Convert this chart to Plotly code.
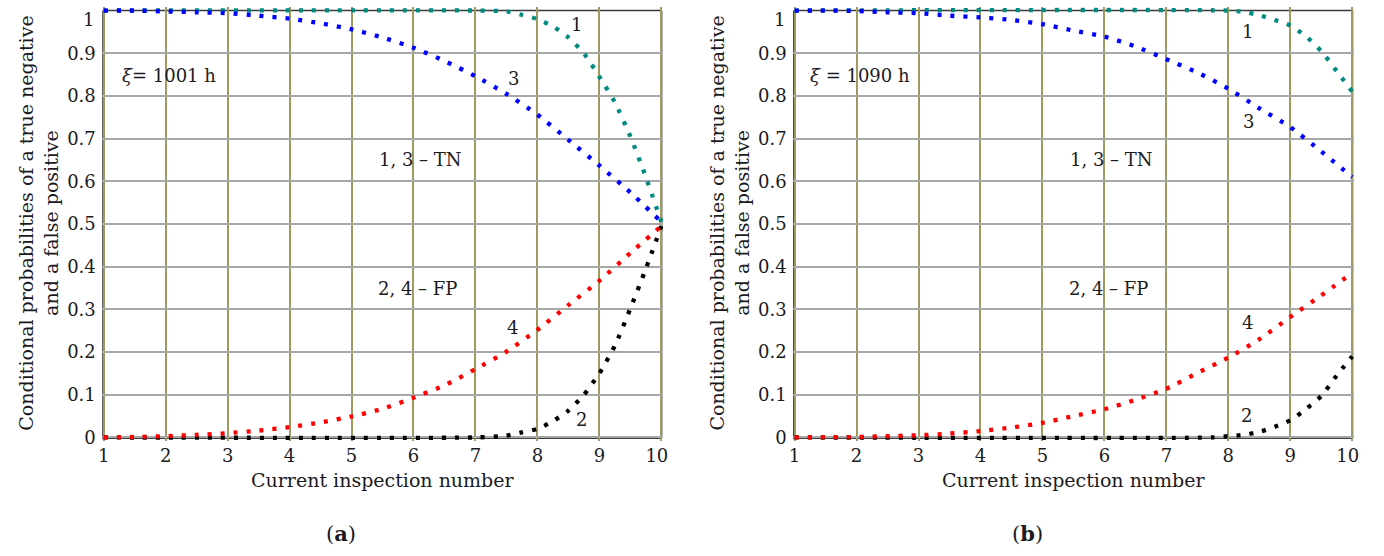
import plotly.graph_objects as go

# ---------------- data ----------------
x_half = [1, 1.5, 2, 2.5, 3, 3.5, 4, 4.5, 5, 5.5, 6, 6.5, 7, 7.5, 8, 8.5, 9, 9.5, 10]

# panel (a)  xi = 1001 h
a_x1 = [1, 7, 7.5, 7.75, 8, 8.25, 8.5, 8.75, 9, 9.25, 9.5, 9.75, 10]
a_y1 = [1, 1, 0.998, 0.99, 0.98, 0.963, 0.937, 0.90, 0.845, 0.785, 0.705, 0.61, 0.505]
a_x2 = [1, 7, 7.5, 7.75, 8, 8.25, 8.5, 8.75, 9, 9.25, 9.5, 9.75, 10]
a_y2 = [0, 0, 0.004, 0.012, 0.02, 0.038, 0.063, 0.10, 0.15, 0.215, 0.302, 0.395, 0.495]
a_y3 = [1.0, 1.0, 0.998, 0.996, 0.994, 0.988, 0.981, 0.970, 0.956, 0.937, 0.913, 0.882,
        0.846, 0.805, 0.756, 0.697, 0.637, 0.574, 0.505]
a_y4 = [0, 0.001, 0.003, 0.006, 0.01, 0.016, 0.024, 0.035, 0.049, 0.067, 0.093, 0.122,
        0.160, 0.201, 0.252, 0.31, 0.367, 0.432, 0.495]

# panel (b)  xi = 1090 h
b_x1 = [1, 8, 8.25, 8.5, 8.75, 9, 9.25, 9.5, 9.75, 10]
b_y1 = [1, 1, 0.997, 0.989, 0.978, 0.965, 0.940, 0.905, 0.858, 0.81]
b_x2 = [1, 7.75, 8, 8.25, 8.5, 8.75, 9, 9.25, 9.5, 9.75, 10]
b_y2 = [0, 0, 0.003, 0.006, 0.013, 0.025, 0.04, 0.066, 0.097, 0.145, 0.19]
b_y3 = [1, 1, 0.999, 0.996, 0.994, 0.988, 0.984, 0.978, 0.968, 0.953, 0.939, 0.916,
        0.886, 0.855, 0.817, 0.771, 0.727, 0.670, 0.61]
b_y4 = [0, 0.0005, 0.001, 0.003, 0.005, 0.009, 0.015, 0.023, 0.034, 0.05, 0.066, 0.088,
        0.114, 0.151, 0.187, 0.23, 0.282, 0.333, 0.385]

x_ticks = [1, 2, 3, 4, 5, 6, 7, 8, 9, 10]
x_ticktext = ["1", "2", "3", "4", "5", "6", "7", "8", "9", "10\u2002"]
y_ticks = [0, 0.1, 0.2, 0.3, 0.4, 0.5, 0.6, 0.7, 0.8, 0.9]
y_ticktext = ["0", "0.1", "0.2", "0.3", "0.4", "0.5", "0.6", "0.7", "0.8", "0.9"]

xi_text = ["<i>ξ</i>= 1001 h", "<i>ξ</i> = 1090 h"]
panel_tags = ["(<b>a</b>)", "(<b>b</b>)"]
x_title = "Current inspection number"
y_title = "Conditional probabilities of a true negative<br>and a false positive"

# ---------------- styling ----------------
FONT = "DejaVu Serif"
TXT = "#1a1a22"
C1, C2, C3, C4 = "#008b80", "#000000", "#0000ff", "#ff0000"
DASH = "4px,9px"
W = 1384
H = 556
FS = 18

fig = go.Figure()

panels = [
    dict(xs="x", ys="y", series=[(a_x1, a_y1, C1), (a_x2, a_y2, C2), (x_half, a_y3, C3), (x_half, a_y4, C4)],
         labels=[("1", 8.63, 0.968), ("3", 7.62, 0.84), ("4", 7.59, 0.258), ("2", 8.71, 0.042)]),
    dict(xs="x2", ys="y2", series=[(b_x1, b_y1, C1), (b_x2, b_y2, C2), (x_half, b_y3, C3), (x_half, b_y4, C4)],
         labels=[("1", 8.31, 0.95), ("3", 8.33, 0.74), ("4", 8.31, 0.27), ("2", 8.30, 0.051)]),
]

for p in panels:
    for xs_, ys_, col in p["series"]:
        fig.add_trace(go.Scatter(
            x=xs_, y=ys_, mode="lines", xaxis=p["xs"], yaxis=p["ys"],
            line=dict(color=col, width=4.3, dash=DASH, shape="spline", smoothing=0.6),
            showlegend=False, hoverinfo="skip"))

# domains in pixels
x_left_px = [(101, 666), (801, 1366)]
xr = [0.97, 10.03]
yr = [-0.008, 1.008]
y0_px, y1_px = 443, 10.7
unit_y = (y0_px - y1_px)
ybot = y0_px + 0.008 * unit_y
ytop = y1_px - 0.008 * unit_y
ydom = [1 - ybot / H, 1 - ytop / H]

axis_common = dict(
    showline=False, zeroline=False, ticks="", showgrid=True, gridwidth=2,
    tickfont=dict(family=FONT, size=FS, color=TXT), fixedrange=True)

for i, (l, r) in enumerate(x_left_px):
    unit_x = (r - l) / 9.0
    dl = (l - 0.03 * unit_x) / W
    dr = (r + 0.03 * unit_x) / W
    sfx = "" if i == 0 else "2"
    fig.layout["xaxis" + sfx] = dict(
        axis_common, domain=[dl, dr], range=xr, tickvals=x_ticks, ticktext=x_ticktext,
        gridcolor="#9f9b5e", anchor="y" + sfx, ticklabelstandoff=2)
    fig.layout["yaxis" + sfx] = dict(
        axis_common, domain=ydom, range=yr, tickvals=y_ticks, ticktext=y_ticktext,
        gridcolor="#a8a8a8", anchor="x" + sfx, ticklabelstandoff=5)

shapes = []
annotations = []
for i, p in enumerate(panels):
    xs, ys = p["xs"], p["ys"]
    # frame
    shapes.append(dict(type="line", xref=xs, yref=ys, x0=1, x1=10, y0=1, y1=1,
                       line=dict(color="#3a3a3a", width=1.6), layer="below"))
    shapes.append(dict(type="line", xref=xs, yref=ys, x0=10, x1=10, y0=0, y1=1,
                       line=dict(color="#222222", width=2), layer="below"))
    shapes.append(dict(type="line", xref=xs, yref=ys, x0=1, x1=1, y0=-0.004, y1=1,
                       line=dict(color="#000000", width=2.6), layer="below"))
    shapes.append(dict(type="line", xref=xs, yref=ys, x0=1, x1=10, y0=0, y1=0,
                       line=dict(color="#000000", width=2.6), layer="below"))
    # "1" tick label (sits slightly low in the reference)
    annotations.append(dict(text="1", xref=xs + " domain", yref=ys, x=0, y=0.978,
                            xanchor="right", yanchor="middle", xshift=-6, showarrow=False,
                            font=dict(family=FONT, size=FS, color=TXT)))
    # texts inside
    annotations.append(dict(text=xi_text[i], xref=xs, yref=ys, x=2.05, y=0.848,
                            showarrow=False, font=dict(family=FONT, size=FS, color=TXT)))
    annotations.append(dict(text="1, 3 – TN", xref=xs, yref=ys, x=6.11, y=0.651,
                            showarrow=False, font=dict(family=FONT, size=FS, color=TXT)))
    annotations.append(dict(text="2, 4 – FP", xref=xs, yref=ys, x=6.06, y=0.348,
                            showarrow=False, font=dict(family=FONT, size=FS, color=TXT)))
    for t, lx, ly in p["labels"]:
        annotations.append(dict(text=t, xref=xs, yref=ys, x=lx, y=ly, showarrow=False,
                                font=dict(family=FONT, size=FS, color=TXT)))
    # axis titles
    l, r = x_left_px[i]
    annotations.append(dict(text=x_title, xref="paper", yref="paper",
                            x=((l + r) / 2 + 1) / W, y=1 - 486 / H,
                            xanchor="center", yanchor="middle", showarrow=False,
                            font=dict(family=FONT, size=19, color=TXT)))
    annotations.append(dict(text=y_title, xref="paper", yref="paper",
                            x=(l - 66) / W, y=1 - 226 / H, textangle=-90,
                            xanchor="center", yanchor="middle", showarrow=False,
                            font=dict(family=FONT, size=19, color=TXT)))
    annotations.append(dict(text=panel_tags[i], xref="paper", yref="paper",
                            x=(341.5 + 695 * i) / W, y=1 - 540 / H,
                            xanchor="center", yanchor="middle", showarrow=False,
                            font=dict(family=FONT, size=21, color=TXT)))

fig.update_layout(
    width=W, height=H, margin=dict(l=0, r=0, t=0, b=0),
    paper_bgcolor="white", plot_bgcolor="white",
    shapes=shapes, annotations=annotations,
)

fig.write_html("out.html")
